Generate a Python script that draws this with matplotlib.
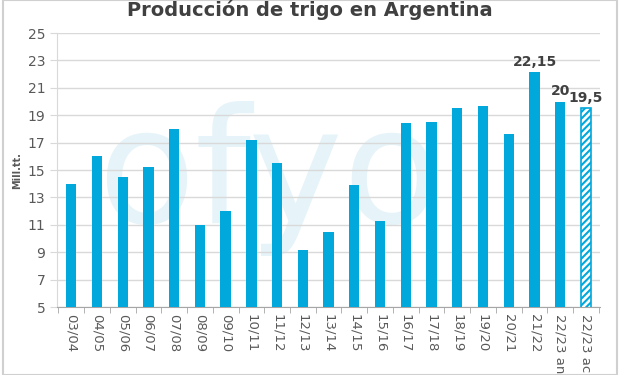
import matplotlib.pyplot as plt
import numpy as np

# Campaign data from the image (millions of tonnes)
campaigns = ["03/04", "04/05", "05/06", "06/07", "07/08", "08/09", "09/10", "10/11",
             "11/12", "12/13", "13/14", "14/15", "15/16", "16/17", "17/18", "18/19",
             "19/20", "20/21", "21/22", "22/23 an", "22/23 ac"]
production = [14, 16, 14.5, 15.2, 18, 11, 12, 17.2, 15.5, 9.2, 10.5, 13.9, 11.3,
              18.4, 18.5, 19.5, 19.7, 17.6, 22.15, 20, 19.5]
labelled = {"21/22": "22,15", "22/23 an": "20", "22/23 ac": "19,5"}

blue = "#00a8dc"
grey = "#595959"
plt.rcParams['hatch.linewidth'] = 1.5

fig = plt.figure(figsize=(6.2, 3.75), dpi=100)
ax = fig.add_axes([0.092, 0.181, 0.876, 0.731])

x = np.arange(len(campaigns))
ax.bar(x[:-1], production[:-1], width=0.4, color=blue, zorder=3)
ax.bar(x[-1], production[-1], width=0.4, color="white", edgecolor=blue,
       hatch="/////", linewidth=1.2, zorder=3)

for xi, name, val in zip(x, campaigns, production):
    if name in labelled:
        ax.text(xi, val + 0.25, labelled[name], ha="center", va="bottom",
                fontsize=10, fontweight="bold", color="#404040", zorder=4)

ax.set_ylim(5, 25)
ax.set_xlim(-0.55, len(campaigns) - 0.45)
ax.set_yticks(range(5, 26, 2))
ax.set_xticks(x)
ax.set_xticklabels(campaigns, rotation=270, fontsize=9.5, color=grey)
ax.set_xticks(np.arange(-0.5, len(campaigns), 1), minor=True)
ax.tick_params(axis="x", which="major", length=0, pad=5)
ax.tick_params(axis="x", which="minor", length=4, color="#a6a6a6")
ax.tick_params(axis="y", labelsize=10, labelcolor=grey, length=5, color="#d9d9d9")
ax.grid(axis="y", color="#d9d9d9", linewidth=1, zorder=0)
for s in ["top", "right"]:
    ax.spines[s].set_visible(False)
ax.spines["left"].set_color("#d9d9d9")
ax.spines["bottom"].set_color("#a6a6a6")
ax.set_ylabel("Mill.tt.", fontsize=7, fontweight="bold", color=grey, labelpad=4)

# faint watermark behind the bars
ax.text(0.39, 0.47, "ofyo", transform=ax.transAxes, fontsize=115, color="#e6f4fa",
        ha="center", va="center", zorder=1)

fig.text(0.5, 1.0, "Producción de trigo en Argentina", fontsize=14,
         fontweight="bold", color="#404040", ha="center", va="top")

fig.patches.append(plt.Rectangle((0.005, 0.0), 0.99, 1.0, transform=fig.transFigure,
                                 fill=False, edgecolor="#d0d0d0", linewidth=1.5))

fig.savefig("out.png", dpi=100)
